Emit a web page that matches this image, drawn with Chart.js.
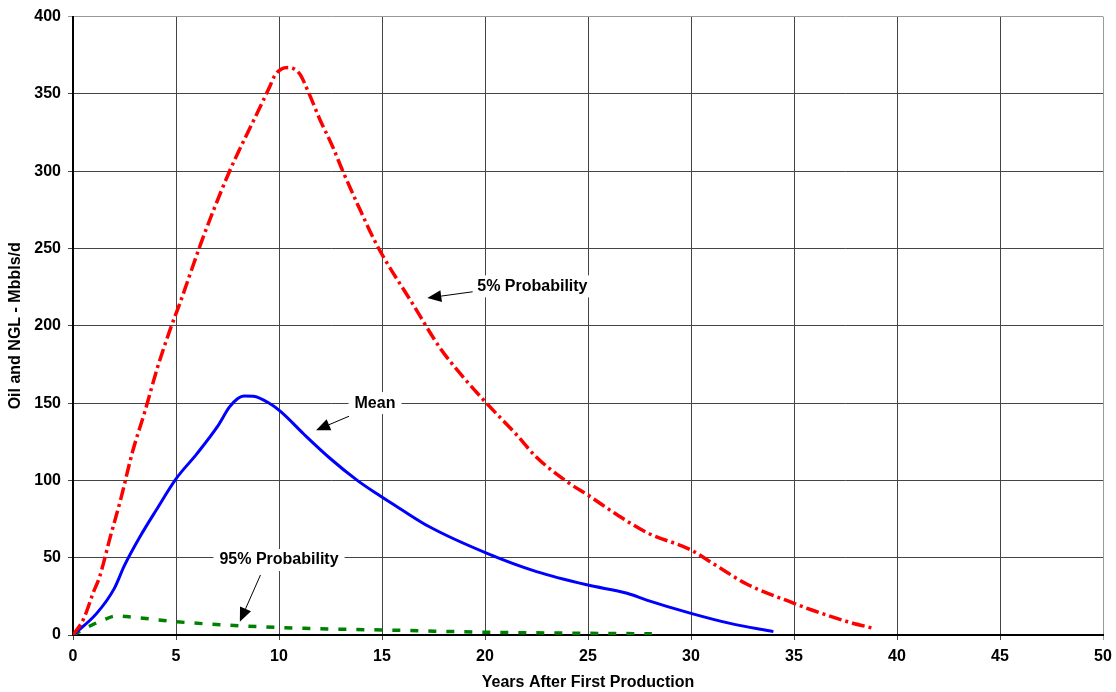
<!DOCTYPE html>
<html>
<head>
<meta charset="utf-8">
<script src="https://cdn.jsdelivr.net/npm/chart.js@4"></script>
<style>
  body { margin: 0; background: #fff; }
  #chart { display: block; }
</style>
</head>
<body>
<canvas id="chart" width="1116" height="692"></canvas>
<script>
// values (years, Mbbls/d)
const p5Years = [0, 0.5, 1.0, 1.3, 1.8, 2.3, 2.9, 3.5, 4.1, 4.7, 5.2, 6.2, 6.8, 7.6, 8.3, 9.1, 9.56, 9.8, 10.1, 10.45, 11.0, 11.4, 12.0, 12.6, 13.1, 13.8, 14.8, 16.5, 17.8, 18.8, 20.0, 21.5, 22.5, 24.0, 25.0, 26.5, 27.9, 30.0, 31.1, 32.7, 35.0, 35.9, 37.6, 38.85];
const p5Values = [0, 10, 28, 38, 63, 87, 119, 145, 173, 197, 215, 253, 274, 300, 320, 342, 355, 362, 366, 367, 363, 352, 333, 316, 300, 279, 251, 214, 186, 169, 151, 130, 115, 99, 90.5, 77, 66, 55, 46, 33, 20.5, 16, 8.6, 4.3];

const meanYears = [0, 1.15, 2.0, 2.5, 3.25, 4.05, 5.0, 6.0, 7.0, 7.6, 8.0, 8.3, 8.75, 9.55, 10.1, 11.2, 12.5, 13.8, 14.9, 15.9, 17.3, 20.1, 22.5, 25.0, 26.9, 27.85, 30.0, 31.9, 34.0];
const meanValues = [0, 14, 30, 45, 63.5, 81, 101, 117, 134.6, 147.5, 153, 154.6, 154.4, 149.7, 144.3, 130, 114, 100, 90, 81.5, 70, 52.8, 41, 32.3, 27, 22.6, 14, 7.5, 2.2];

const p95Years = [0, 0.7, 1.47, 2.1, 2.6, 5.0, 8.1, 11.2, 15.2, 20.1, 24.0, 28.1];
const p95Values = [0, 5, 9.7, 12.3, 11.9, 8.6, 6, 4.3, 3.2, 1.8, 1.2, 0.8];

const xTicks = [0, 5, 10, 15, 20, 25, 30, 35, 40, 45, 50];
const yTicks = [0, 50, 100, 150, 200, 250, 300, 350, 400];

// callouts: label position, arrow tail, arrow tip (data units)
const notes = [
  { text: "5% Probability", x: 22.3, y: 225.5, tail: [19.4, 222], tip: [17.2, 218] },
  { text: "Mean", x: 14.66, y: 150, tail: [13.4, 141.5], tip: [11.8, 132.5] },
  { text: "95% Probability", x: 10.0, y: 48.5, tail: [9.1, 38.8], tip: [8.1, 8.6] }
];

function pts(xs, ys) {
  return xs.map((x, i) => ({ x: x, y: ys[i] }));
}

const FONT = "'Liberation Sans', Arial, sans-serif";

const calloutPlugin = {
  id: 'callouts',
  afterDatasetsDraw(chart) {
    const c = chart.ctx;
    const xs = chart.scales.x, ys = chart.scales.y;
    c.save();
    c.font = "bold 16px " + FONT;
    c.textAlign = 'center';
    c.textBaseline = 'middle';
    notes.forEach(n => {
      const cx = xs.getPixelForValue(n.x), cy = ys.getPixelForValue(n.y);
      const w = c.measureText(n.text).width + 12;
      c.fillStyle = '#fff';
      c.fillRect(cx - w / 2, cy - 11, w, 22);
      c.fillStyle = '#000';
      c.fillText(n.text, cx, cy);

      const tx = xs.getPixelForValue(n.tail[0]), ty = ys.getPixelForValue(n.tail[1]);
      const hx = xs.getPixelForValue(n.tip[0]), hy = ys.getPixelForValue(n.tip[1]);
      const a = Math.atan2(hy - ty, hx - tx);
      const len = 14, half = 6;
      const bx = hx - len * Math.cos(a), by = hy - len * Math.sin(a);
      c.strokeStyle = '#000';
      c.lineWidth = 1;
      c.beginPath();
      c.moveTo(tx, ty);
      c.lineTo(bx, by);
      c.stroke();
      c.beginPath();
      c.moveTo(hx, hy);
      c.lineTo(bx + half * Math.sin(a), by - half * Math.cos(a));
      c.lineTo(bx - half * Math.sin(a), by + half * Math.cos(a));
      c.closePath();
      c.fill();
    });
    c.restore();
  }
};

const ctx = document.getElementById("chart");
new Chart(ctx, {
  type: 'line',
  data: {
    datasets: [
      {
        label: '5% Probability',
        data: pts(p5Years, p5Values),
        borderColor: '#ff0000',
        borderWidth: 3.5,
        borderDash: [13, 4, 3, 4],
        pointRadius: 0,
        cubicInterpolationMode: 'monotone',
        fill: false
      },
      {
        label: 'Mean',
        data: pts(meanYears, meanValues),
        borderColor: '#0000ff',
        borderWidth: 3,
        pointRadius: 0,
        cubicInterpolationMode: 'monotone',
        fill: false
      },
      {
        label: '95% Probability',
        data: pts(p95Years, p95Values),
        borderColor: '#008000',
        borderWidth: 3.5,
        borderDash: [8, 10],
        pointRadius: 0,
        cubicInterpolationMode: 'monotone',
        fill: false
      }
    ]
  },
  options: {
    responsive: false,
    animation: false,
    layout: { padding: { top: 16, right: 13, left: 0, bottom: 0 } },
    plugins: {
      legend: { display: false },
      tooltip: { enabled: false }
    },
    scales: {
      x: {
        type: 'linear',
        min: 0,
        max: 50,
        afterBuildTicks: s => { s.ticks = xTicks.map(v => ({ value: v })); },
        afterFit: s => { s.height = 57; s.paddingRight = 0; s.paddingLeft = 0; },
        ticks: { color: '#000', font: { family: FONT, size: 16, weight: 'bold' }, padding: 7, maxRotation: 0 },
        grid: {
          color: c => (c.tick && c.tick.value === 50) ? '#999' : '#444',
          lineWidth: 1,
          tickLength: 5
        },
        border: { color: '#000', width: 2 },
        title: {
          display: true,
          text: 'Years After First Production',
          color: '#000',
          font: { family: FONT, size: 16, weight: 'bold' },
          padding: { top: 0, bottom: 0 }
        }
      },
      y: {
        type: 'linear',
        min: 0,
        max: 400,
        afterBuildTicks: s => { s.ticks = yTicks.map(v => ({ value: v })); },
        afterFit: s => { s.width = 73; },
        ticks: { color: '#000', font: { family: FONT, size: 16, weight: 'bold' }, padding: 7 },
        grid: {
          color: c => (c.tick && c.tick.value === 400) ? '#999' : '#444',
          lineWidth: 1,
          tickLength: 5
        },
        border: { color: '#000', width: 2 },
        title: {
          display: true,
          text: 'Oil and NGL - Mbbls/d',
          color: '#000',
          font: { family: FONT, size: 16, weight: 'bold' },
          padding: { top: 6, bottom: 0 }
        }
      }
    }
  },
  plugins: [calloutPlugin]
});
</script>
</body>
</html>
